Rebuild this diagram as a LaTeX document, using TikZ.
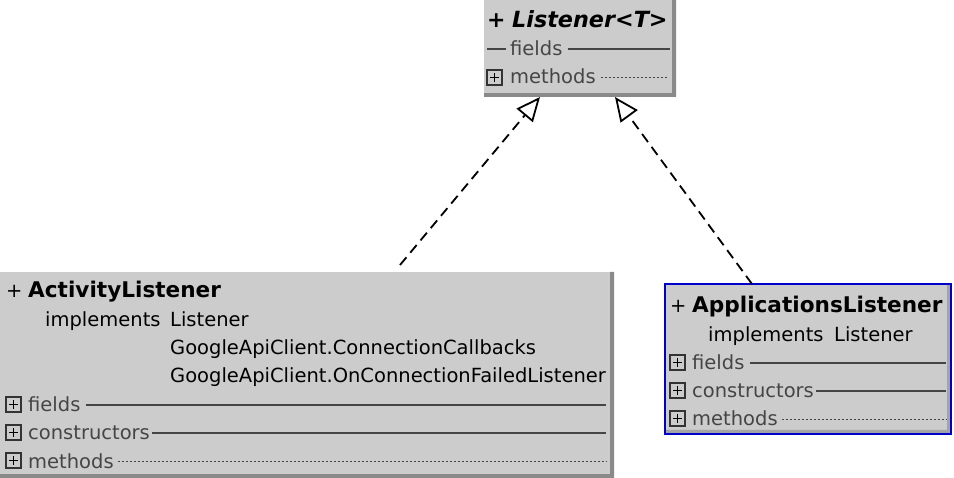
\documentclass[tikz,border=0pt]{standalone}
\usepackage{fontspec}
\setmainfont{DejaVu Sans}
\usetikzlibrary{arrows.meta}
\definecolor{boxgray}{HTML}{CCCCCC}
\definecolor{shadegray}{HTML}{8A8A8A}
\definecolor{rowgray}{HTML}{454545}
\definecolor{icongray}{HTML}{333333}
\definecolor{selblue}{HTML}{0000CC}
\begin{document}
\begin{tikzpicture}[x=1pt,y=-1pt,
  umlbox/.style={fill=boxgray, draw=none, anchor=north west, inner sep=0pt},
  txt/.style={anchor=base west, inner sep=0pt, font=\fontsize{19.5}{22}\selectfont},
  ttl/.style={txt, font=\fontsize{21.6}{24}\selectfont\bfseries},
  rowtxt/.style={txt, text=rowgray},
  rowline/.style={rowgray, line width=2pt},
  rowdots/.style={rowgray, line width=1.8pt, dash pattern=on 1.8pt off 2.2pt},
  realize/.style={line width=1.8pt, dash pattern=on 10pt off 6pt,
    -{Triangle[open, length=24pt, width=21pt, line width=1.8pt]}},
  pics/plusicon/.style={code={
    \draw[icongray, line width=1.6pt] (0,0) rectangle (15,-15);
    \draw[black, line width=1.8pt] (3,-7.5) -- (12,-7.5) (7.5,-3) -- (7.5,-12);}}
]
\useasboundingbox (0,0) rectangle (954,478);

% ---------- Listener<T> ----------
\fill[shadegray] (672,0) rectangle (676,97) (484,93) rectangle (676,97);
\node[umlbox, minimum width=188pt, minimum height=93pt] (L) at (484,0) {};
\node[txt, font=\fontsize{22}{24}\selectfont\bfseries\itshape] (Lp) at (487,28) {+};
\node[txt, font=\fontsize{22.3}{24}\selectfont\bfseries\itshape] (Lt) at (512,28) {Listener<T>};
\draw[rowline] (487,49.5) -- (506,49.5);
\node[rowtxt] (Lf) at (510,56) {fields};
\draw[rowline] ([xshift=5pt,yshift=6.5pt]Lf.base east) -- (670,49.5);
\pic at (487,85) {plusicon};
\node[rowtxt] (Lm) at (510,84) {methods};
\draw[rowdots] ([xshift=5pt,yshift=6.5pt]Lm.base east) -- (668,77.5);
\coordinate (Ltipa) at (540,97);
\coordinate (Ltipb) at (615,97);

% ---------- ActivityListener ----------
\fill[shadegray] (610,272) rectangle (614,478) (0,474) rectangle (614,478);
\node[umlbox, minimum width=610pt, minimum height=202pt] (A) at (0,272) {};
\node[txt] (Ap) at (6,298) {+};
\node[ttl] (At) at (28,298) {ActivityListener};
\node[txt] (Ai) at (45,327) {implements};
\node[txt] (Ai1) at (170,327) {Listener};
\node[txt] (Ai2) at (170,355) {GoogleApiClient.ConnectionCallbacks};
\node[txt] (Ai3) at (170,383) {GoogleApiClient.OnConnectionFailedListener};
\pic at (6,412) {plusicon};
\node[rowtxt] (Af) at (28,412) {fields};
\draw[rowline] ([xshift=5pt,yshift=6.5pt]Af.base east) -- (606,405.5);
\pic at (6,440) {plusicon};
\node[rowtxt] (Ac) at (28,440) {constructors};
\draw[rowline] ([xshift=2pt,yshift=6.5pt]Ac.base east) -- (606,433.5);
\pic at (6,468) {plusicon};
\node[rowtxt] (Am) at (28,468) {methods};
\draw[rowdots] ([xshift=4pt,yshift=6.5pt]Am.base east) -- (606,461.5);
\coordinate (Aend) at (400,265);

% ---------- ApplicationsListener ----------
\node[umlbox, minimum width=286pt, minimum height=150pt] (P) at (665,284) {};
\fill[shadegray!60!boxgray] (947,285) rectangle (950,433) (666,430) rectangle (950,433);
\draw[selblue, line width=2pt] (P.north west) rectangle (P.south east);
\node[txt] (Pp) at (670,313) {+};
\node[ttl] (Pt) at (692,313) {ApplicationsListener};
\node[txt] (Pi) at (708,342) {implements};
\node[txt] (Pi1) at (834,342) {Listener};
\pic at (670,370) {plusicon};
\node[rowtxt] (Pf) at (692,370) {fields};
\draw[rowline] ([xshift=5pt,yshift=6.5pt]Pf.base east) -- (946,363.5);
\pic at (670,398) {plusicon};
\node[rowtxt] (Pc) at (692,398) {constructors};
\draw[rowline] ([xshift=2pt,yshift=6.5pt]Pc.base east) -- (946,391.5);
\pic at (670,426) {plusicon};
\node[rowtxt] (Pm) at (692,426) {methods};
\draw[rowdots] ([xshift=4pt,yshift=6.5pt]Pm.base east) -- (946,419.5);
\coordinate (Pend) at (752,284);

% ---------- realizations ----------
\draw[realize] (Aend) -- (Ltipa);
\draw[realize] (Pend) -- (Ltipb);
\end{tikzpicture}
\end{document}
